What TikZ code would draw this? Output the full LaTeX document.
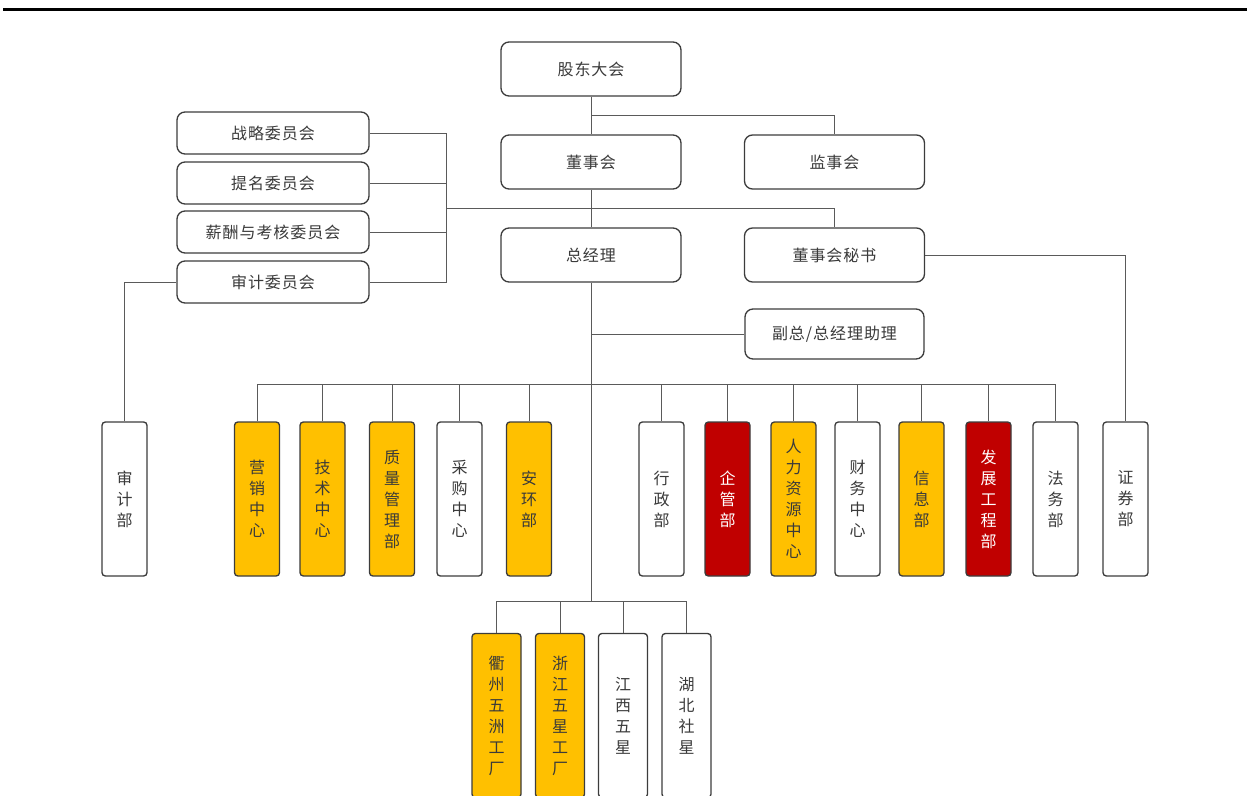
\documentclass[tikz,border=0pt]{standalone}
\usepackage{fontspec}
\newfontfamily\cjkv{Noto Sans CJK SC}
\newfontfamily\cjkh[LetterSpace=6]{Noto Sans CJK SC}
\definecolor{bord}{HTML}{3C3C3C}
\definecolor{lnc}{HTML}{5A5A5A}
\definecolor{txt}{HTML}{3A3A3A}
\definecolor{yel}{HTML}{FFC000}
\definecolor{redd}{HTML}{C00000}
\begin{document}
\begin{tikzpicture}[x=0.75pt,y=-0.75pt,
  hbox/.style={draw=bord, line width=1pt, rounded corners=6pt, fill=white, inner sep=0pt,
    minimum width=135pt, minimum height=40.5pt, text=txt, font=\cjkh\fontsize{12}{14}\selectfont},
  cbox/.style={hbox, minimum width=144pt, minimum height=31.5pt},
  fbox/.style={hbox, minimum width=134.25pt, minimum height=37.5pt},
  vbox/.style={draw=bord, line width=1pt, rounded corners=2.5pt, fill=white, inner sep=0pt,
    minimum width=33.75pt, minimum height=115.5pt, text=txt, align=center,
    font=\cjkv\fontsize{12}{15.75}\selectfont},
  wbox/.style={vbox, minimum width=36.75pt, minimum height=123pt},
  yb/.style={fill=yel},
  rb/.style={fill=redd, text=white},
  conn/.style={draw=lnc, line width=0.75pt}]
\useasboundingbox (0,0) rectangle (1247,796);
\clip (0,0) rectangle (1247,796);
\draw[line width=2.25pt] (3,9.5) -- (1247,9.5);

% top-level boxes
\node[hbox] (gd) at (591,69) {股东大会};
\node[hbox] (dsh) at (591,162) {董事会};
\node[hbox] (jsh) at (834.5,162) {监事会};
\node[hbox] (zjl) at (591,255) {总经理};
\node[hbox] (ms) at (834.5,255) {董事会秘书};
\node[fbox] (fz) at (834.5,334) {副总/总经理助理};

% committees
\node[cbox] (c1) at (273,133) {战略委员会};
\node[cbox] (c2) at (273,183) {提名委员会};
\node[cbox] (c3) at (273,232) {薪酬与考核委员会};
\node[cbox] (c4) at (273,282) {审计委员会};

% departments
\node[vbox] (sjb) at (124.5,499) {审\\计\\部};
\node[vbox,yb] (d1) at (257,499) {营\\销\\中\\心};
\node[vbox,yb] (d2) at (322.5,499) {技\\术\\中\\心};
\node[vbox,yb] (d3) at (392,499) {质\\量\\管\\理\\部};
\node[vbox] (d4) at (459.5,499) {采\\购\\中\\心};
\node[vbox,yb] (d5) at (529,499) {安\\环\\部};
\node[vbox] (d6) at (661.5,499) {行\\政\\部};
\node[vbox,rb] (d7) at (727.5,499) {企\\管\\部};
\node[vbox,yb] (d8) at (793.5,499) {人\\力\\资\\源\\中\\心};
\node[vbox] (d9) at (857.5,499) {财\\务\\中\\心};
\node[vbox,yb] (d10) at (921.5,499) {信\\息\\部};
\node[vbox,rb] (d11) at (988.5,499) {发\\展\\工\\程\\部};
\node[vbox] (d12) at (1055.5,499) {法\\务\\部};
\node[vbox] (zqb) at (1125.5,499) {证\\券\\部};

% factories
\node[wbox,yb] (f1) at (496.5,715.5) {衢\\州\\五\\洲\\工\\厂};
\node[wbox,yb] (f2) at (560,715.5) {浙\\江\\五\\星\\工\\厂};
\node[wbox] (f3) at (623,715.5) {江\\西\\五\\星};
\node[wbox] (f4) at (686.5,715.5) {湖\\北\\社\\星};

% bus points
\coordinate (b1) at (591,115);
\coordinate (b2) at (446,208);
\coordinate (b3) at (591,334);
\coordinate (b4) at (591,384);
\coordinate (b5) at (591,601);

\draw[conn] (gd.south) -- (dsh.north);
\draw[conn] (b1) -| (jsh.north);
\draw[conn] (dsh.south) -- (zjl.north);
\draw[conn] (b2) -| (ms.north);
\draw[conn] (c1.east) -| (b2);
\draw[conn] (c4.east) -| (b2);
\draw[conn] (c2.east) -- (c2.east -| b2);
\draw[conn] (c3.east) -- (c3.east -| b2);
\draw[conn] (c4.west) -| (sjb.north);
\draw[conn] (ms.east) -| (zqb.north);
\draw[conn] (zjl.south) -- (b5);
\draw[conn] (b3) -- (fz.west);
\foreach \d in {d1,d2,d3,d4,d5,d6,d7,d8,d9,d10,d11,d12}
  \draw[conn] (b4) -| (\d.north);
\foreach \f in {f1,f2,f3,f4}
  \draw[conn] (b5) -| (\f.north);
\end{tikzpicture}
\end{document}
